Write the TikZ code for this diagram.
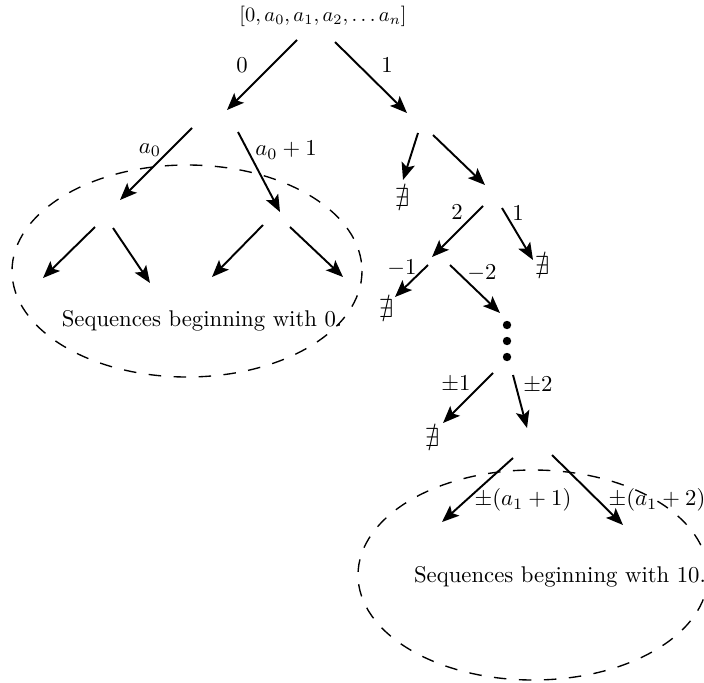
\documentclass[tikz,border=0pt]{standalone}
\usepackage{amsmath,amssymb}
\usetikzlibrary{arrows.meta}
\begin{document}
\begin{tikzpicture}[x=0.44pt,y=-0.44pt,
  edge/.style={line width=0.85pt,-{Stealth[length=7.5pt,width=6pt,inset=1.6pt]}},
  lbl/.style={inner sep=0pt},
  nex/.style={inner sep=0pt,scale=1.15,transform shape},
  blob/.style={dashed,line width=0.6pt,dash pattern=on 5.5pt off 5.5pt}]
\useasboundingbox (0,0) rectangle (704,682);
% top
\node[lbl,scale=0.9,transform shape] (top) at (323,16) {$[0,a_0,a_1,a_2,\ldots a_n]$};
\coordinate (s1) at (297,40); \coordinate (e1) at (227,110);
\coordinate (s2) at (335,42); \coordinate (e2) at (407,113);
\draw[edge] (s1) -- (e1); \draw[edge] (s2) -- (e2);
\node[lbl] (l0) at (242,65) {$0$};
\node[lbl] (l1) at (387,65) {$1$};
% left subtree
\coordinate (s3) at (192,128); \coordinate (e3) at (120,200);
\coordinate (s4) at (238,132); \coordinate (e4) at (280,212);
\draw[edge] (s3) -- (e3); \draw[edge] (s4) -- (e4);
\node[lbl] (la0) at (150,150) {$a_0$};
\node[lbl] (la1) at (286,150) {$a_0+1$};
\coordinate (s5) at (95,227); \coordinate (e5) at (43,278);
\coordinate (s6) at (113,228); \coordinate (e6) at (150,283);
\coordinate (s7) at (263,225); \coordinate (e7) at (212,277);
\coordinate (s8) at (290,227); \coordinate (e8) at (343,277);
\draw[edge] (s5) -- (e5); \draw[edge] (s6) -- (e6);
\draw[edge] (s7) -- (e7); \draw[edge] (s8) -- (e8);
\node[lbl] (seq0) at (202,321) {Sequences beginning with 0.};
\draw[blob] (187,271) ellipse [x radius=175, y radius=106];
% right subtree
\coordinate (s9) at (418,133); \coordinate (e9) at (403,180);
\coordinate (s10) at (433,135); \coordinate (e10) at (485,185);
\draw[edge] (s9) -- (e9); \draw[edge] (s10) -- (e10);
\node[nex] (n1) at (402,197) {$\nexists$};
\coordinate (s11) at (483,206); \coordinate (e11) at (432,257);
\coordinate (s12) at (502,208); \coordinate (e12) at (533,260);
\draw[edge] (s11) -- (e11); \draw[edge] (s12) -- (e12);
\node[lbl] (l2) at (457,212) {$2$};
\node[lbl] (l1b) at (518,213) {$1$};
\node[nex] (n2) at (542,265) {$\nexists$};
\coordinate (s13) at (428,265); \coordinate (e13) at (395,297);
\coordinate (s14) at (450,265); \coordinate (e14) at (500,313);
\draw[edge] (s13) -- (e13); \draw[edge] (s14) -- (e14);
\node[lbl] (lm1) at (402,268) {$-1$};
\node[lbl] (lm2) at (482,273) {$-2$};
\node[nex] (n3) at (386,308) {$\nexists$};
\fill (507,325) circle [radius=4.2];
\fill (507,341) circle [radius=4.2];
\fill (507,357) circle [radius=4.2];
\coordinate (s15) at (493,373); \coordinate (e15) at (443,423);
\coordinate (s16) at (513,375); \coordinate (e16) at (527,428);
\draw[edge] (s15) -- (e15); \draw[edge] (s16) -- (e16);
\node[lbl] (lpm1) at (456,384) {$\pm1$};
\node[lbl] (lpm2) at (538,385) {$\pm2$};
\node[nex] (n4) at (432,437) {$\nexists$};
\coordinate (s17) at (513,458); \coordinate (e17) at (442,522);
\coordinate (s18) at (552,455); \coordinate (e18) at (623,525);
\draw[edge] (s17) -- (e17); \draw[edge] (s18) -- (e18);
\node[lbl] (lpa1) at (523,500) {$\pm(a_1+1)$};
\node[lbl] (lpa2) at (657,500) {$\pm(a_1+2)$};
\node[lbl] (seq10) at (560,577) {Sequences beginning with 10.};
\draw[blob] (533,575) ellipse [x radius=175, y radius=105];
\end{tikzpicture}
\end{document}
